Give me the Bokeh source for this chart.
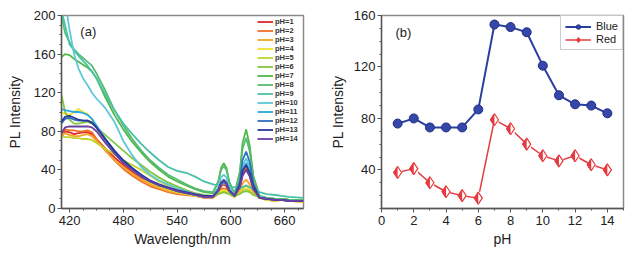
from bokeh.plotting import figure
from bokeh.layouts import row
from bokeh.models import SingleIntervalTicker, Legend, LegendItem, Range1d, Label, ColumnDataSource
from bokeh.transform import dodge
from bokeh.embed import file_html
from bokeh.resources import INLINE

# ---------------- data: panel (a) ----------------
wavelength = [411, 415, 420, 425, 430, 435, 440, 445, 450, 460, 470, 480, 490, 500, 510, 520, 530,
              540, 550, 560, 570, 580, 586, 589, 592, 595, 598, 604, 610, 613, 617, 621, 625, 632,
              640, 650, 656, 665, 681]

ph1 = [74, 80, 79, 77, 78, 79, 79, 77, 72, 62, 53, 45, 38, 32, 27, 23, 20, 18, 16, 14, 12, 12, 17, 23,
       25, 23, 17, 13, 22, 35, 41, 34, 21, 11, 10, 9, 10, 9, 8]
ph2 = [78, 82, 81, 81, 80, 80, 81, 79, 72, 60, 50, 41, 34, 28, 23, 20, 17, 15, 14, 13, 11, 11, 15, 20,
       21, 20, 15, 12, 22, 37, 43, 35, 21, 11, 9, 8, 9, 8, 7]
ph3 = [76, 78, 76, 75, 75, 76, 77, 75, 70, 60, 50, 43, 36, 30, 25, 21, 18, 16, 15, 13, 12, 12, 15, 18,
       19, 18, 15, 12, 18, 26, 30, 25, 17, 11, 9, 8, 9, 8, 7]
ph4 = [100, 98, 97, 100, 103, 100, 98, 92, 84, 70, 58, 48, 40, 33, 27, 23, 20, 17, 15, 13, 12, 12, 15,
       18, 19, 18, 15, 12, 16, 21, 23, 20, 15, 11, 9, 8, 9, 8, 7]
ph5 = [75, 74, 74, 73, 73, 72, 72, 71, 68, 62, 56, 50, 45, 40, 34, 28, 24, 21, 18, 15, 13, 13, 15, 16,
       17, 16, 15, 13, 15, 19, 20, 18, 15, 12, 10, 9, 10, 9, 8]
ph6 = [118, 100, 92, 88, 88, 89, 90, 88, 84, 76, 68, 60, 52, 45, 38, 32, 27, 23, 19, 16, 14, 13, 15, 16,
       17, 16, 15, 13, 15, 17, 18, 17, 14, 12, 10, 9, 10, 9, 8]
ph7 = [157, 160, 159, 155, 152, 149, 146, 142, 135, 115, 97, 82, 69, 58, 48, 40, 33, 28, 24, 20, 17, 16,
       28, 42, 47, 42, 28, 15, 38, 68, 82, 65, 34, 13, 11, 10, 10, 9, 9]
ph8 = [200, 182, 172, 165, 160, 156, 152, 148, 140, 122, 102, 86, 72, 60, 50, 42, 35, 30, 25, 21, 18, 17,
       28, 40, 44, 40, 28, 15, 36, 62, 73, 59, 32, 13, 11, 10, 10, 9, 9]
ph9 = [205, 190, 170, 164, 158, 153, 148, 142, 135, 118, 102, 88, 77, 67, 58, 50, 43, 39, 37, 33, 28, 25,
       24, 25, 26, 25, 23, 22, 21, 22, 24, 22, 20, 17, 15, 14, 13, 12, 11]
ph10 = [240, 215, 185, 160, 145, 135, 128, 120, 114, 104, 90, 70, 55, 43, 35, 29, 25, 21, 18, 15, 13, 13,
        22, 32, 35, 32, 22, 14, 26, 44, 52, 42, 24, 12, 10, 9, 9, 8, 8]
ph11 = [103, 102, 101, 100, 100, 99, 97, 93, 86, 72, 60, 49, 40, 33, 28, 24, 21, 18, 16, 14, 12, 12, 18,
        26, 28, 26, 18, 13, 24, 40, 47, 38, 22, 11, 10, 9, 9, 8, 8]
ph12 = [88, 93, 94, 92, 91, 91, 91, 89, 84, 71, 59, 49, 41, 34, 28, 24, 21, 18, 16, 14, 12, 12, 19, 27,
        30, 27, 19, 13, 28, 50, 59, 48, 26, 11, 10, 9, 9, 8, 8]
ph13 = [90, 95, 96, 94, 92, 91, 91, 89, 84, 72, 60, 50, 42, 35, 29, 25, 22, 19, 17, 15, 13, 13, 19, 26,
        28, 26, 19, 13, 24, 39, 45, 37, 23, 11, 10, 9, 9, 8, 8]
ph14 = [78, 84, 85, 85, 85, 85, 85, 84, 80, 68, 57, 47, 40, 33, 28, 24, 21, 18, 16, 14, 12, 12, 19, 26,
        29, 26, 19, 13, 22, 34, 40, 33, 20, 11, 10, 9, 9, 8, 8]

spectra = [ph1, ph2, ph3, ph4, ph5, ph6, ph7, ph8, ph9, ph10, ph11, ph12, ph13, ph14]
spectra_labels = ["pH=1", "pH=2", "pH=3", "pH=4", "pH=5", "pH=6", "pH=7", "pH=8", "pH=9",
                  "pH=10", "pH=11", "pH=12", "pH=13", "pH=14"]
spectra_colors = ["#e4262b", "#ef6f23", "#f6a423", "#f0e228", "#c0d52e", "#86c540", "#4fb848",
                  "#57bb74", "#49c1a6", "#5cc8d8", "#2ba7e1", "#2f6fbf", "#273a95", "#6b3fa0"]

# ---------------- data: panel (b) ----------------
ph = [1, 2, 3, 4, 5, 6, 7, 8, 9, 10, 11, 12, 13, 14]
blue = [76, 80, 73, 73, 73, 87, 153, 151, 147, 121, 98, 91, 90, 84]
red = [38, 41, 30, 23, 20, 18, 79, 72, 60, 51, 47, 51, 44, 40]

FONT = "Liberation Sans"
AXIS_COLOR = "#555555"


def style(p, xlabel, ylabel, x_int, x_minor, y_int, y_minor, ylab_standoff):
    p.xaxis.ticker = SingleIntervalTicker(interval=x_int, num_minor_ticks=x_minor)
    p.yaxis.ticker = SingleIntervalTicker(interval=y_int, num_minor_ticks=y_minor)
    p.xgrid.visible = False
    p.ygrid.visible = False
    p.outline_line_color = "#8a8a8a"
    p.outline_line_width = 1.5
    p.xaxis.axis_label = xlabel
    p.yaxis.axis_label = ylabel
    for ax in (p.xaxis, p.yaxis):
        ax.axis_line_color = AXIS_COLOR
        ax.axis_line_width = 1.3
        ax.major_tick_line_color = AXIS_COLOR
        ax.minor_tick_line_color = AXIS_COLOR
        ax.major_tick_in = 0
        ax.major_tick_out = 4
        ax.minor_tick_in = 0
        ax.minor_tick_out = 2
        ax.major_label_text_font = FONT
        ax.major_label_text_font_size = "13px"
        ax.major_label_text_color = "#222222"
        ax.axis_label_text_font = FONT
        ax.axis_label_text_font_size = "14px"
        ax.axis_label_text_font_style = "normal"
        ax.axis_label_text_color = "#222222"
    p.xaxis.major_label_standoff = 3
    p.xaxis.axis_label_standoff = 3
    p.yaxis.major_label_standoff = 2
    p.yaxis.axis_label_standoff = ylab_standoff


# ---------------- panel (a) ----------------
pa = figure(width=320, height=249, output_backend="svg", toolbar_location=None,
            x_range=Range1d(411, 681), y_range=Range1d(0, 200),
            min_border_left=61, min_border_right=17, min_border_top=15, min_border_bottom=39)
style(pa, "Wavelength/nm", "PL Intensity", 60, 4, 40, 4, 8)

items = []
for vals, lab, col in zip(spectra, spectra_labels, spectra_colors):
    r = pa.line(wavelength, vals, line_color=col, line_width=1.8)
    items.append(LegendItem(label=lab, renderers=[r]))

leg_a = Legend(items=items, location=(196, 65), label_text_font=FONT, label_text_font_size="7.5px",
               label_text_font_style="bold", label_text_color="#333333", label_height=9,
               glyph_height=9, glyph_width=16, spacing=0, padding=0, margin=0, label_standoff=2,
               border_line_color=None, background_fill_alpha=0)
pa.add_layout(leg_a)
pa.add_layout(Label(x=432, y=183, text="(a)", text_font=FONT, text_font_size="13px",
                    text_baseline="middle", text_color="#222222"))

# ---------------- panel (b) ----------------
pb = figure(width=307, height=249, output_backend="svg", toolbar_location=None,
            x_range=Range1d(0, 15), y_range=Range1d(10, 160),
            min_border_left=61, min_border_right=4, min_border_top=15, min_border_bottom=39)
style(pb, "pH", "PL Intensity", 2, 2, 40, 4, 5)

bsrc = ColumnDataSource(dict(x=ph, y=blue))
bl = pb.line("x", "y", source=bsrc, line_color="#2b3f9f", line_width=2)
bm = pb.scatter("x", "y", source=bsrc, marker="circle", size=9, fill_color="#3548aa",
                line_color="#1f2c80", line_width=1)

rsrc = ColumnDataSource(dict(x=ph, y=red))
rl = pb.line("x", "y", source=rsrc, line_color="#e63a3f", line_width=1.5)
rf = pb.scatter("x", "y", source=rsrc, marker="diamond", size=12, fill_color="#e63a3f",
                line_color="#e63a3f")
pb.rect(x=dodge("x", 0.13, range=pb.x_range), y="y", source=rsrc, width=4.2, height=13,
        width_units="screen", height_units="screen", fill_color="white", line_color=None)
ro = pb.scatter("x", "y", source=rsrc, marker="diamond", size=12, fill_color=None,
                line_color="#e63a3f", line_width=1.2)

leg_b = Legend(items=[LegendItem(label="Blue", renderers=[bl, bm]),
                      LegendItem(label="Red", renderers=[rl, rf, ro])],
               location="top_right", label_text_font=FONT, label_text_font_size="11px",
               label_text_color="#222222", label_height=11, glyph_height=11, glyph_width=26,
               spacing=1, padding=4, margin=0, label_standoff=5,
               border_line_color="#999999", border_line_width=1, background_fill_color="white")
pb.add_layout(leg_b)
pb.add_layout(Label(x=0.87, y=147, text="(b)", text_font=FONT, text_font_size="13px",
                    text_baseline="middle", text_color="#222222"))

layout = row(pa, pb)
open("out.html", "w").write(file_html(layout, INLINE))
